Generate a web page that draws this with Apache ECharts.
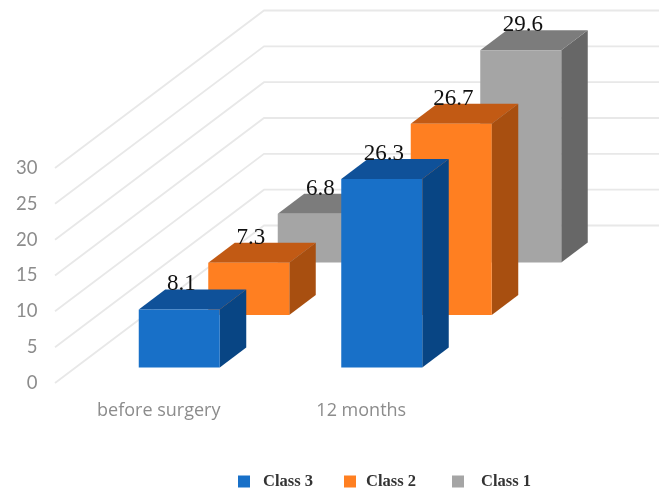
<!DOCTYPE html>
<html>
<head>
<meta charset="utf-8">
<script src="https://cdn.jsdelivr.net/npm/echarts@6/dist/echarts.min.js"></script>
<style>html,body{margin:0;padding:0;background:#fff}#c{width:659px;height:490px;filter:blur(0.6px)}</style>
</head>
<body>
<div id="c"></div>
<script>
const categories = ['before surgery', '12 months'];
const tickValues = [0, 5, 10, 15, 20, 25, 30];
const class3Values = [8.1, 26.3];
const class2Values = [7.3, 26.7];
const class1Values = [6.8, 29.6];

const chart = echarts.init(document.getElementById('c'), null, { renderer: 'canvas' });

function wallItem(params, api) {
  const cs = params.coordSys;
  const p = api.coord([0, api.value(1)]);
  const x0 = cs.x - 2.5, y0 = p[1];
  const style = { stroke: '#e8e8e8', lineWidth: 1.8, fill: null };
  return {
    type: 'polyline',
    shape: { points: [[x0, y0], [x0 + 209, y0 - 157.5], [cs.x + cs.width + 300, y0 - 157.5]] },
    style: style, silent: true
  };
}

function barRenderer(row, front, top, side) {
  return function (params, api) {
    const cat = api.value(0), val = api.value(1);
    const band = api.size([1, 0])[0];
    const w = band * 0.4;
    const c = api.coord([cat, val]), b = api.coord([cat, 0]);
    const ox = 20.5 + 69.5 * row, oy = -(15.5 + 52.5 * row);
    const l = c[0] + ox - w / 2, r = l + w;
    const t = c[1] + oy, bt = b[1] + oy;
    const dx = 26.5, dy = -20;
    return {
      type: 'group',
      children: [
        { type: 'polygon', shape: { points: [[r, t], [r + dx, t + dy], [r + dx, bt + dy], [r, bt]] }, style: { fill: side } },
        { type: 'polygon', shape: { points: [[l, t], [l + dx, t + dy], [r + dx, t + dy], [r, t]] }, style: { fill: top } },
        { type: 'rect', shape: { x: l, y: t, width: w, height: bt - t }, style: { fill: front } },
        { type: 'text', z2: 10, style: {
            x: l + w / 2 + 2, y: t + dy - 5, text: String(val),
            fill: '#111', font: '23px "Liberation Serif"', align: 'center', verticalAlign: 'middle'
        } }
      ]
    };
  };
}

function pairs(values) { return values.map((v, i) => [i, v]); }

function legendAt(name, left, gap) {
  return {
    data: [{ name: name, icon: 'rect' }], left: left, top: 468, itemWidth: 12, itemHeight: 12,
    selectedMode: false,
    textStyle: { color: '#333', fontFamily: 'Liberation Serif', fontWeight: 'bold', fontSize: 16.5, padding: [0, 0, 0, gap] }
  };
}

chart.setOption({
  animation: false,
  backgroundColor: '#fff',
  grid: { left: 57.5, width: 405, top: 168, height: 215 },
  xAxis: {
    type: 'category', data: categories,
    axisLine: { show: false }, axisTick: { show: false }, splitLine: { show: false },
    axisLabel: { color: '#8c8c8c', fontFamily: 'Open Sans', fontSize: 18, margin: 19 }
  },
  yAxis: {
    type: 'value', min: 0, max: 30, interval: 5,
    axisLine: { show: false }, axisTick: { show: false }, splitLine: { show: false },
    axisLabel: { color: '#8c8c8c', fontFamily: 'Lato', fontSize: 18.5, margin: 20 }
  },
  legend: [legendAt('Class 3', 233, 8), legendAt('Class 2', 339, 5), legendAt('Class 1', 447, 12)],
  series: [
    { type: 'custom', name: 'wall', silent: true, data: tickValues.map(v => [0, v]), renderItem: wallItem, z: 1 },
    { type: 'custom', name: 'Class 1', data: pairs(class1Values), itemStyle: { color: '#a5a5a5' }, renderItem: barRenderer(2, '#a5a5a5', '#7c7c7c', '#676767'), z: 2 },
    { type: 'custom', name: 'Class 2', data: pairs(class2Values), itemStyle: { color: '#ff7f21' }, renderItem: barRenderer(1, '#ff7f21', '#c25a14', '#a84f10'), z: 3 },
    { type: 'custom', name: 'Class 3', data: pairs(class3Values), itemStyle: { color: '#1870c8' }, renderItem: barRenderer(0, '#1870c8', '#0f5199', '#084584'), z: 4 }
  ]
});
</script>
</body>
</html>
